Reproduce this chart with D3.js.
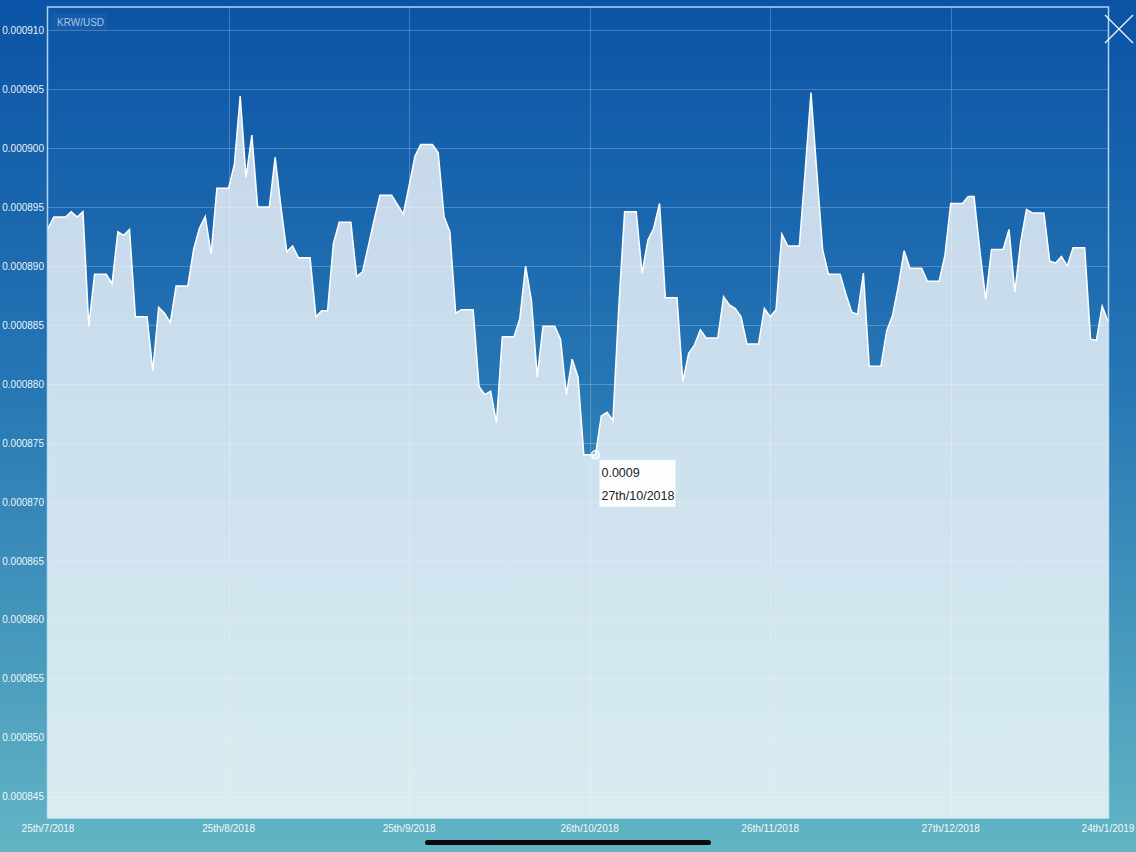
<!DOCTYPE html>
<html>
<head>
<meta charset="utf-8">
<script src="https://cdn.jsdelivr.net/npm/d3@7"></script>
<style>
  html, body { margin: 0; padding: 0; background: #0c54a6; }
  svg { display: block; }
  text { font-family: "Liberation Sans", Arial, Helvetica, sans-serif; }
</style>
</head>
<body>
<svg id="chart" width="1136" height="852"></svg>
<script>
// ---- data (KRW/USD daily rate) ----
const seriesName = "KRW/USD";
const rates = [
  0.0008932, 0.00089415, 0.00089415, 0.00089415, 0.0008946, 0.00089415, 0.0008946, 0.0008849, 0.0008893, 0.0008893,
  0.0008893, 0.0008885, 0.0008929, 0.0008926, 0.0008931, 0.0008857, 0.0008857, 0.0008857, 0.0008811, 0.0008865,
  0.0008860, 0.0008852, 0.0008883, 0.0008883, 0.0008883, 0.0008914, 0.0008932, 0.0008942, 0.0008910, 0.0008966,
  0.0008966, 0.0008966, 0.0008986, 0.0009044, 0.0008975, 0.0009011, 0.0008950, 0.0008950, 0.0008950, 0.0008992,
  0.0008950, 0.0008912, 0.0008917, 0.0008907, 0.0008907, 0.0008907, 0.0008857, 0.0008862, 0.0008862, 0.0008919,
  0.0008937, 0.0008937, 0.0008937, 0.0008891, 0.0008895, 0.0008917, 0.0008939, 0.0008960, 0.0008960, 0.0008960,
  0.0008952, 0.0008944, 0.0008968, 0.0008993, 0.0009003, 0.0009003, 0.0009003, 0.0008996, 0.0008942, 0.0008929,
  0.0008860, 0.0008863, 0.0008863, 0.0008863, 0.0008798, 0.0008791, 0.0008794, 0.0008767, 0.0008840, 0.0008840,
  0.0008840, 0.0008855, 0.0008900, 0.0008871, 0.0008806, 0.0008849, 0.0008849, 0.0008849, 0.0008838, 0.0008791,
  0.0008821, 0.0008806, 0.0008740, 0.0008740, 0.0008740, 0.0008773, 0.0008776, 0.0008769, 0.0008865, 0.0008946,
  0.0008946, 0.0008946, 0.0008894, 0.0008922, 0.0008932, 0.0008953, 0.0008873, 0.0008873, 0.0008873, 0.0008802,
  0.0008826, 0.0008833, 0.0008846, 0.0008839, 0.0008839, 0.0008839, 0.0008874, 0.0008867, 0.0008864, 0.0008857,
  0.0008834, 0.0008834, 0.0008834, 0.0008864, 0.0008857, 0.0008863, 0.0008927, 0.0008917, 0.0008917, 0.0008917,
  0.0008980, 0.0009047, 0.0008980, 0.0008914, 0.0008893, 0.0008893, 0.0008893, 0.0008876, 0.0008861, 0.0008859,
  0.0008894, 0.0008815, 0.0008815, 0.0008815, 0.0008845, 0.0008858, 0.0008883, 0.0008913, 0.0008898, 0.0008898,
  0.0008898, 0.0008887, 0.0008887, 0.0008887, 0.0008909, 0.0008953, 0.0008953, 0.0008953, 0.0008959, 0.0008959,
  0.0008913, 0.0008872, 0.0008914, 0.0008914, 0.0008914, 0.0008931, 0.0008878, 0.0008920, 0.0008948, 0.0008945,
  0.0008945, 0.0008945, 0.0008904, 0.00089025, 0.0008908, 0.0008900, 0.00089155, 0.00089155, 0.00089155, 0.0008838,
  0.0008837, 0.0008866, 0.0008853
];
const yTickValues = [0.000845, 0.000850, 0.000855, 0.000860, 0.000865, 0.000870, 0.000875,
                     0.000880, 0.000885, 0.000890, 0.000895, 0.000900, 0.000905, 0.000910];
const xTickIndex  = [0, 31, 62, 93, 124, 155, 182];
const xTickLabels = ["25th/7/2018", "25th/8/2018", "25th/9/2018", "26th/10/2018",
                     "26th/11/2018", "27th/12/2018", "24th/1/2019"];
const tooltipIndex = 94;
const tooltipLines = ["0.0009", "27th/10/2018"];
const yDomain = [0.00084322, 0.00091195];

// ---- layout ----
const W = 1136, H = 852;
const plot = { left: 47.5, right: 1108.5, top: 7, bottom: 818 };

const svg = d3.select("#chart");

// background gradient
const defs = svg.append("defs");
const bg = defs.append("linearGradient").attr("id", "bg")
  .attr("x1", 0).attr("y1", 0).attr("x2", 0).attr("y2", 1);
bg.append("stop").attr("offset", "0%").attr("stop-color", "#0b53a6");
bg.append("stop").attr("offset", "45%").attr("stop-color", "#2676b4");
bg.append("stop").attr("offset", "100%").attr("stop-color", "#62b5c4");
svg.append("rect").attr("width", W).attr("height", H).attr("fill", "url(#bg)");

const x = d3.scaleLinear().domain([0, rates.length - 1]).range([48, 1108]);
const y = d3.scaleLinear().domain(yDomain).range([plot.bottom, plot.top]);

// grid
const grid = svg.append("g");
grid.selectAll("line.h").data(yTickValues).join("line")
  .attr("x1", plot.left).attr("x2", plot.right)
  .attr("y1", d => Math.round(y(d)) + 0.5).attr("y2", d => Math.round(y(d)) + 0.5)
  .attr("stroke", "rgba(255,255,255,0.22)").attr("stroke-width", 1);
grid.selectAll("line.v").data(xTickIndex.slice(1, -1)).join("line")
  .attr("x1", d => Math.round(x(d)) + 0.5).attr("x2", d => Math.round(x(d)) + 0.5)
  .attr("y1", plot.top).attr("y2", plot.bottom)
  .attr("stroke", "rgba(255,255,255,0.22)").attr("stroke-width", 1);

// area + line
const area = d3.area().x((d, i) => x(i)).y0(plot.bottom).y1(d => y(d));
const line = d3.line().x((d, i) => x(i)).y(d => y(d));
svg.append("path").datum(rates).attr("d", area)
  .attr("fill", "rgba(255,255,255,0.76)");
svg.append("path").datum(rates).attr("d", line)
  .attr("fill", "none").attr("stroke", "#ffffff").attr("stroke-width", 1.5)
  .attr("stroke-linejoin", "miter");

// frame
svg.append("rect")
  .attr("x", plot.left).attr("y", plot.top)
  .attr("width", plot.right - plot.left).attr("height", plot.bottom - plot.top)
  .attr("fill", "none").attr("stroke", "rgba(220,240,255,0.8)").attr("stroke-width", 1.5);

// y labels
svg.append("g").selectAll("text").data(yTickValues).join("text")
  .attr("x", 44).attr("y", d => y(d)).attr("dy", "0.35em")
  .attr("text-anchor", "end").attr("font-size", 10)
  .attr("fill", "rgba(255,255,255,0.95)")
  .text(d => d3.format(".6f")(d));

// x labels
svg.append("g").selectAll("text").data(xTickIndex).join("text")
  .attr("x", d => x(d)).attr("y", 832)
  .attr("text-anchor", "middle").attr("font-size", 10)
  .attr("fill", "rgba(255,255,255,0.95)")
  .text((d, i) => xTickLabels[i]);

// series label
svg.append("rect").attr("x", 51).attr("y", 13).attr("width", 56).attr("height", 18)
  .attr("fill", "rgba(255,255,255,0.04)");
svg.append("text").attr("x", 57).attr("y", 25.5).attr("font-size", 10)
  .attr("fill", "rgba(220,235,255,0.75)").text(seriesName);

// close icon
const close = svg.append("g").attr("stroke", "rgba(255,255,255,0.95)").attr("stroke-width", 1.3);
close.append("line").attr("x1", 1105).attr("y1", 15).attr("x2", 1133).attr("y2", 43);
close.append("line").attr("x1", 1133).attr("y1", 15).attr("x2", 1105).attr("y2", 43);

// tooltip
const tx = x(tooltipIndex), ty = y(rates[tooltipIndex]);
svg.append("circle").attr("cx", tx).attr("cy", ty).attr("r", 4)
  .attr("fill", "rgba(255,255,255,0.35)").attr("stroke", "rgba(255,255,255,0.95)").attr("stroke-width", 1.5);
svg.append("rect").attr("x", tx + 4).attr("y", ty + 5).attr("width", 76).attr("height", 47)
  .attr("fill", "rgba(255,255,255,0.93)");
svg.append("g").selectAll("text").data(tooltipLines).join("text")
  .attr("x", tx + 6).attr("y", (d, i) => ty + 22 + i * 23)
  .attr("font-size", 12.5).attr("fill", "#222").text(d => d);

// home indicator
svg.append("rect").attr("x", 425).attr("y", 840).attr("width", 286).attr("height", 5)
  .attr("rx", 2.5).attr("fill", "#0a0a0a");
</script>
</body>
</html>
